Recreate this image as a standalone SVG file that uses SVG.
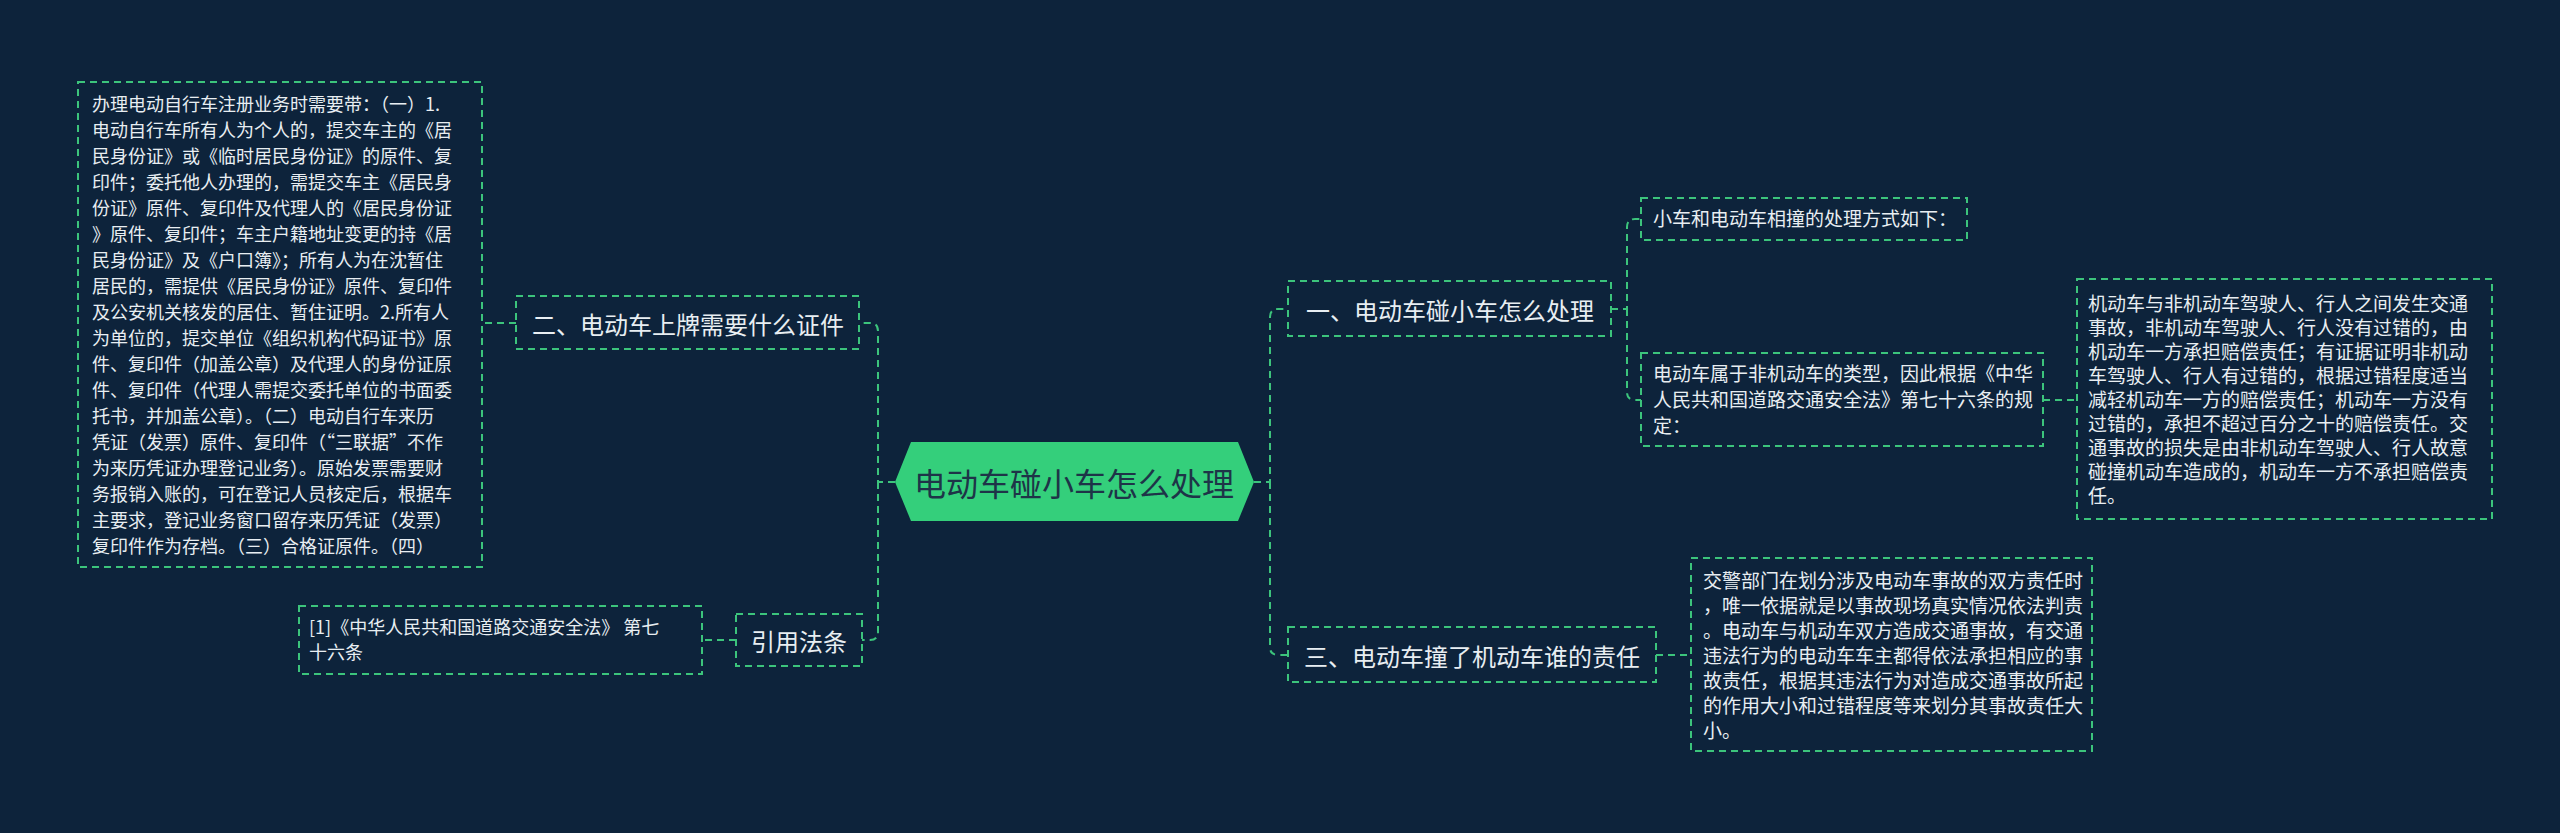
<svg xmlns="http://www.w3.org/2000/svg" width="2560" height="833" viewBox="0 0 2560 833">
<style>
.bx{fill:none;stroke:#3cc47c;stroke-width:2;stroke-dasharray:7 5}
.ln{fill:none;stroke:#3cc47c;stroke-width:2;stroke-dasharray:7 5}
.t{font-family:"Noto Sans CJK SC","Noto Sans",sans-serif;fill:#e8eef2}
.s{font-size:18px}
.m{font-size:19px}
.b{font-size:24px;text-anchor:middle;dominant-baseline:central}
</style>
<rect width="2560" height="833" fill="#0d233b"/>
<g id="connectors">
<path class="ln" d="M1254 482H1270V317Q1270 309 1278 309H1288"/>
<path class="ln" d="M1270 482V647Q1270 655 1278 655H1288"/>
<path class="ln" d="M895 482H878V331Q878 323 870 323H859"/>
<path class="ln" d="M878 482V632Q878 640 870 640H862"/>
<path class="ln" d="M516 323H482"/>
<path class="ln" d="M736 640H702"/>
<path class="ln" d="M1611 309H1627V227Q1627 219 1635 219H1641"/>
<path class="ln" d="M1627 309V392Q1627 400 1635 400H1641"/>
<path class="ln" d="M2043 400H2077"/>
<path class="ln" d="M1656 655H1691"/>
</g>
<g id="center">
<polygon points="895,482 911,442 1238,442 1254,482 1238,521 911,521" fill="#34cf7b"/>
<text class="t" x="1074" y="482" font-size="32" text-anchor="middle" dominant-baseline="central" style="fill:#1e3448">电动车碰小车怎么处理</text>
</g>
<g id="b2">
<rect class="bx" x="516" y="296" width="343" height="53"/>
<text class="t b" x="688" y="323">二、电动车上牌需要什么证件</text>
</g>
<g id="b2c">
<rect class="bx" x="78" y="82" width="404" height="485"/>
<text class="t s">
<tspan x="92" y="111">办理电动自行车注册业务时需要带：（一）1.</tspan>
<tspan x="92" y="137">电动自行车所有人为个人的，提交车主的《居</tspan>
<tspan x="92" y="163">民身份证》或《临时居民身份证》的原件、复</tspan>
<tspan x="92" y="189">印件；委托他人办理的，需提交车主《居民身</tspan>
<tspan x="92" y="215">份证》原件、复印件及代理人的《居民身份证</tspan>
<tspan x="92" y="241">》原件、复印件；车主户籍地址变更的持《居</tspan>
<tspan x="92" y="267">民身份证》及《户口簿》；所有人为在沈暂住</tspan>
<tspan x="92" y="293">居民的，需提供《居民身份证》原件、复印件</tspan>
<tspan x="92" y="319">及公安机关核发的居住、暂住证明。2.所有人</tspan>
<tspan x="92" y="345">为单位的，提交单位《组织机构代码证书》原</tspan>
<tspan x="92" y="371">件、复印件（加盖公章）及代理人的身份证原</tspan>
<tspan x="92" y="397">件、复印件（代理人需提交委托单位的书面委</tspan>
<tspan x="92" y="423">托书，并加盖公章）。（二）电动自行车来历</tspan>
<tspan x="92" y="449">凭证（发票）原件、复印件（“三联据”不作</tspan>
<tspan x="92" y="475">为来历凭证办理登记业务）。原始发票需要财</tspan>
<tspan x="92" y="501">务报销入账的，可在登记人员核定后，根据车</tspan>
<tspan x="92" y="527">主要求，登记业务窗口留存来历凭证（发票）</tspan>
<tspan x="92" y="553">复印件作为存档。（三）合格证原件。（四）</tspan>
</text>
</g>
<g id="b2c-last"><text class="t s" x="92" y="579" style="display:none"></text></g>
<g id="b4">
<rect class="bx" x="736" y="614" width="126" height="52"/>
<text class="t b" x="799" y="640">引用法条</text>
</g>
<g id="b4c">
<rect class="bx" x="299" y="606" width="403" height="68"/>
<text class="t s"><tspan x="309" y="634">[1]《中华人民共和国道路交通安全法》 第七</tspan><tspan x="309" y="659">十六条</tspan></text>
</g>
<g id="b1">
<rect class="bx" x="1288" y="281" width="323" height="55"/>
<text class="t b" x="1450" y="309">一、电动车碰小车怎么处理</text>
</g>
<g id="b1c1">
<rect class="bx" x="1641" y="198" width="326" height="42"/>
<text class="t m" x="1653" y="226">小车和电动车相撞的处理方式如下：</text>
</g>
<g id="b1c2">
<rect class="bx" x="1641" y="353" width="402" height="93"/>
<text class="t m"><tspan x="1653" y="381">电动车属于非机动车的类型，因此根据《中华</tspan><tspan x="1653" y="407">人民共和国道路交通安全法》第七十六条的规</tspan><tspan x="1653" y="433">定：</tspan></text>
</g>
<g id="b1c3">
<rect class="bx" x="2077" y="279" width="415" height="240"/>
<text class="t m">
<tspan x="2088" y="311">机动车与非机动车驾驶人、行人之间发生交通</tspan>
<tspan x="2088" y="335">事故，非机动车驾驶人、行人没有过错的，由</tspan>
<tspan x="2088" y="359">机动车一方承担赔偿责任；有证据证明非机动</tspan>
<tspan x="2088" y="383">车驾驶人、行人有过错的，根据过错程度适当</tspan>
<tspan x="2088" y="407">减轻机动车一方的赔偿责任；机动车一方没有</tspan>
<tspan x="2088" y="431">过错的，承担不超过百分之十的赔偿责任。交</tspan>
<tspan x="2088" y="455">通事故的损失是由非机动车驾驶人、行人故意</tspan>
<tspan x="2088" y="479">碰撞机动车造成的，机动车一方不承担赔偿责</tspan>
<tspan x="2088" y="503">任。</tspan>
</text>
</g>
<g id="b3">
<rect class="bx" x="1288" y="627" width="368" height="55"/>
<text class="t b" x="1472" y="655">三、电动车撞了机动车谁的责任</text>
</g>
<g id="b3c">
<rect class="bx" x="1691" y="558" width="401" height="193"/>
<text class="t m">
<tspan x="1703" y="588">交警部门在划分涉及电动车事故的双方责任时</tspan>
<tspan x="1703" y="613">，唯一依据就是以事故现场真实情况依法判责</tspan>
<tspan x="1703" y="638">。电动车与机动车双方造成交通事故，有交通</tspan>
<tspan x="1703" y="663">违法行为的电动车车主都得依法承担相应的事</tspan>
<tspan x="1703" y="688">故责任，根据其违法行为对造成交通事故所起</tspan>
<tspan x="1703" y="713">的作用大小和过错程度等来划分其事故责任大</tspan>
<tspan x="1703" y="738">小。</tspan>
</text>
</g>
</svg>
